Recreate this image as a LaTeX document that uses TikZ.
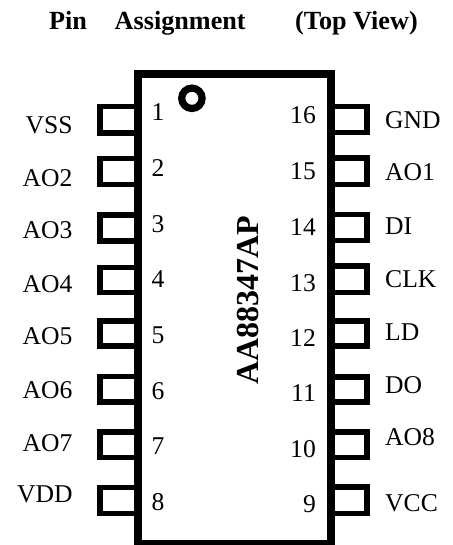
\documentclass[tikz,border=0pt]{standalone}
\usepackage{fontspec}
\setmainfont{Liberation Serif}
\tikzset{
  body/.style={draw=black,line width=8pt,fill=none,miter limit=10},
  pinbox/.style={draw=black,line width=5.6pt},
  mark dot/.style={draw=black,line width=7.2pt},
  title/.style={inner sep=0pt,font=\fontsize{26.2}{30}\selectfont\bfseries,anchor=base west},
  chip/.style={inner sep=0pt,font=\fontsize{32}{36}\selectfont\bfseries,anchor=base,rotate=90},
  ltext/.style={inner sep=0pt,font=\fontsize{25.6}{30}\selectfont,anchor=base east},
  rtext/.style={inner sep=0pt,font=\fontsize{25.6}{30}\selectfont,anchor=base west},
  lnum/.style={inner sep=0pt,font=\fontsize{25.6}{30}\selectfont,anchor=base},
  rnum/.style={inner sep=0pt,font=\fontsize{25.6}{30}\selectfont,anchor=base east},
}
\begin{document}
\begin{tikzpicture}[x=1pt,y=-1pt]
\useasboundingbox (0,0) rectangle (452,545);
% titles
\node[title] (t1) at (49,30) {Pin};
\node[title] (t2) at (114.5,30) {Assignment};
\node[title] (t3) at (295,30) {(Top View)};
% left pins
\foreach \a/\b in {106.7/133,158.7/184.7,214.7/240.7,267.5/292.3,320.8/346.2,376.5/402.2,431.8/457.5,487.5/513.5}
  \draw[pinbox] (137.5,\a) -- (100.2,\a) -- (100.2,\b) -- (137.5,\b);
% right pins
\foreach \a/\b in {106.5/132.5,158.2/184.5,214.5/240.5,266/292.3,320.8/346.2,376.8/402.2,431.8/457.5,487.2/513.5}
  \draw[pinbox] (331.3,\a) -- (366.8,\a) -- (366.8,\b) -- (331.3,\b);
% package
\draw[body] (137.5,74) rectangle (331.3,543.7);
\draw[mark dot] (191.9,98.3) circle (10.2);
\node[chip] (chip) at (258.3,300) {AA88347AP};
% left labels
\foreach \n/\t/\y in {l1/VSS/133.7,l2/AO2/186.7,l3/AO3/238.7,l4/AO4/292,l5/AO5/344.7,l6/AO6/398,l7/AO7/451,l8/VDD/502.7}
  \node[ltext] (\n) at (72.7,\y) {\t};
% left numbers
\foreach \n/\t/\y in {n1/1/120.7,n2/2/176.7,n3/3/232.3,n4/4/287.7,n5/5/343,n6/6/399.3,n7/7/454,n8/8/510}
  \node[lnum] (\n) at (158,\y) {\t};
% right numbers
\foreach \n/\t/\y in {n16/16/124,n15/15/180,n14/14/235,n13/13/291,n12/12/346,n11/11/401.7,n10/10/457,n9/9/512.7}
  \node[rnum] (\n) at (316,\y) {\t};
% right labels
\foreach \n/\t/\y in {r16/GND/128.3,r15/AO1/181,r14/DI/234.3,r13/CLK/287,r12/LD/340.3,r11/DO/393,r10/AO8/445.3,r9/VCC/511}
  \node[rtext] (\n) at (385,\y) {\t};
\end{tikzpicture}
\end{document}
